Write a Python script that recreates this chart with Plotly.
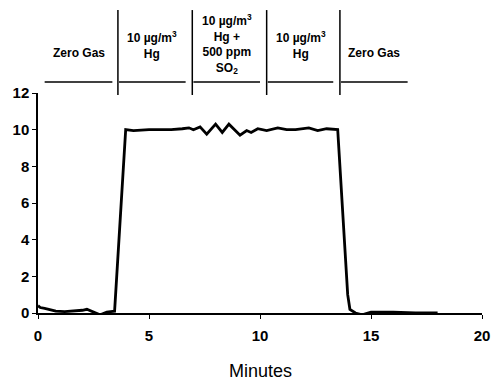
import plotly.graph_objects as go

time_min = [0.0, 0.1, 0.3, 0.5, 0.8, 1.2, 1.6, 2.0, 2.2, 2.5, 2.8, 3.1, 3.45, 3.95, 4.3, 5.0, 6.0, 6.5, 6.8, 7.0,
            7.3, 7.6, 8.0, 8.3, 8.6, 9.1, 9.4, 9.6, 9.9, 10.3, 10.8, 11.2, 11.6, 12.2, 12.6, 13.0, 13.5,
            13.95, 14.05, 14.3, 14.6, 15.0, 15.5, 16.0, 17.0, 18.0]
signal = [0.4, 0.3, 0.25, 0.2, 0.1, 0.08, 0.1, 0.15, 0.2, 0.05, -0.1, 0.05, 0.1, 10.0, 9.95, 10.0, 10.0, 10.05, 10.1, 10.0,
          10.15, 9.75, 10.3, 9.85, 10.3, 9.7, 9.95, 9.85, 10.05, 9.95, 10.1, 10.0, 10.0, 10.1, 9.95, 10.05, 10.0,
          1.0, 0.2, 0.0, -0.1, 0.05, 0.05, 0.05, 0.0, 0.0]

phase_bounds = [3.6, 6.95, 10.3, 13.6]
phase_starts = [0.3, 3.65, 7.0, 10.35, 13.65]
phase_ends = [3.35, 6.65, 10.0, 13.3, 16.65]
phase_labels = ["Zero Gas", "10 µg/m<sup>3</sup><br>Hg", "10 µg/m<sup>3</sup><br>Hg +<br>500 ppm<br>SO<sub>2</sub>",
                "10 µg/m<sup>3</sup><br>Hg", "Zero Gas"]
phase_label_y = [1.182, 1.218, 1.223, 1.218, 1.182]

FONT = "Liberation Sans"

fig = go.Figure()
fig.add_trace(go.Scatter(x=time_min, y=signal, mode="lines", cliponaxis=False,
                         line=dict(color="black", width=2.8), showlegend=False))

shapes = []
for b in phase_bounds:
    shapes.append(dict(type="line", xref="x", yref="paper", x0=b, x1=b, y0=0.991, y1=1.377,
                       line=dict(color="black", width=1.5)))
for s, e in zip(phase_starts, phase_ends):
    shapes.append(dict(type="line", xref="x", yref="paper", x0=s, x1=e, y0=1.05, y1=1.05,
                       line=dict(color="black", width=1.5)))

annotations = []
for s, e, lab, yy in zip(phase_starts, phase_ends, phase_labels, phase_label_y):
    annotations.append(dict(x=(s + e) / 2, y=yy, xref="x", yref="paper", text="<b>" + lab + "</b>",
                            showarrow=False, font=dict(size=12, color="black", family=FONT),
                            align="center", yanchor="middle"))
annotations.append(dict(x=0.5, y=-0.262, xref="paper", yref="paper", text="Minutes", showarrow=False,
                        font=dict(size=18, color="black", family=FONT), yanchor="middle"))

fig.update_layout(
    width=493, height=381,
    margin=dict(l=38, r=11, t=93, b=68),
    paper_bgcolor="white", plot_bgcolor="white",
    font=dict(family=FONT, color="black"),
    shapes=shapes, annotations=annotations,
    xaxis=dict(range=[0, 20], tickvals=[0, 5, 10, 15, 20], showgrid=False, zeroline=False,
               showline=True, linecolor="black", linewidth=1.5, ticks="outside", ticklen=4,
               tickcolor="black", automargin=False, ticklabelstandoff=4,
               tickfont=dict(size=15, family=FONT, weight="bold")),
    yaxis=dict(range=[0, 12], tickvals=[0, 2, 4, 6, 8, 10, 12], showgrid=False, zeroline=False,
               showline=True, linecolor="black", linewidth=1.5, ticks="outside", ticklen=4,
               tickcolor="black", automargin=False,
               tickfont=dict(size=15, family=FONT, weight="bold")),
)
fig.write_html("out.html", config={"displayModeBar": False},
               post_script="document.body.style.margin='0px';document.body.style.overflow='hidden';")
